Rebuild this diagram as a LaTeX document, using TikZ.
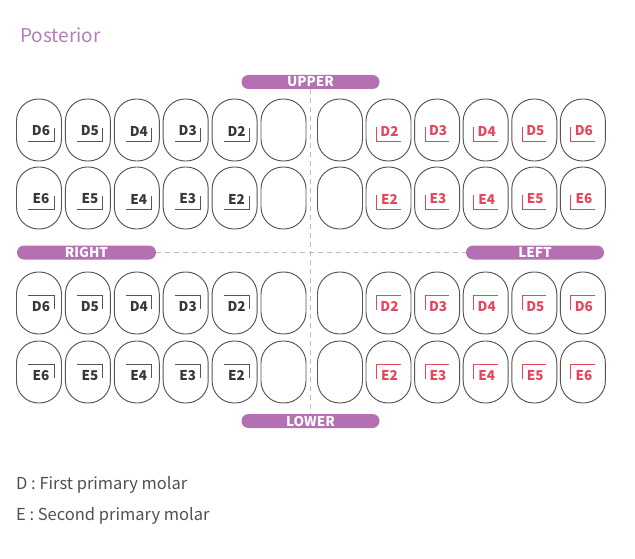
\documentclass[tikz,border=0pt]{standalone}
\usepackage{fontspec}
\setmainfont{Noto Sans CJK KR}
\usetikzlibrary{positioning}

\definecolor{toothline}{HTML}{555555}
\definecolor{barpurple}{HTML}{B470B2}
\definecolor{titlepurple}{HTML}{B27DBA}
\definecolor{sidered}{HTML}{E5465E}
\definecolor{labelgray}{HTML}{383838}
\definecolor{dashgray}{HTML}{BDBDBD}
\definecolor{legendgray}{HTML}{505050}

\tikzset{
  tooth/.style={draw=toothline, line width=0.95pt, minimum width=45pt, minimum height=62pt,
    rounded corners=22pt, inner sep=0pt},
  toothlabel/.style={font=\bfseries\fontsize{13.5}{13.5}\selectfont, inner sep=0pt, text=labelgray},
  redlabel/.style={toothlabel, text=sidered},
  bracketline/.style={toothline, line width=0.9pt},
  redbracket/.style={sidered, line width=0.9pt},
  sidebar/.style={fill=barpurple, text=white, font=\bfseries\fontsize{13.5}{13.5}\selectfont,
    rounded corners=7pt, minimum height=14pt, inner sep=0pt},
  guide/.style={dashgray, dash pattern=on 5pt off 4pt, line width=0.9pt},
}

\begin{document}
\begin{tikzpicture}[x=1pt, y=-1pt]
    \useasboundingbox (0,0) rectangle (635,559);

    % Title
    \node[anchor=base west, inner sep=0pt, text=titlepurple, font=\fontsize{19}{19}\selectfont]
        (title) at (20,43) {Posterior};

    % Side bars
    \node[sidebar, minimum width=138pt] (upper) at (310.5,82) {UPPER};
    \node[sidebar, minimum width=138pt] (lower) at (310.5,421) {LOWER};
    \node[sidebar, minimum width=139pt] (right) at (86.5,252.5) {RIGHT};
    \node[sidebar, minimum width=138pt] (left) at (535,252.5) {LEFT};

    % Midlines
    \draw[guide] (upper.south) -- (lower.north);
    \draw[guide] (right.east) -- (left.west);

    % Upper teeth
    \foreach \row/\ty/\lt in {ua/130/D, ub/198/E} {
      \foreach \n [count=\i] in {6,5,4,3,2} {
        \node[tooth] (\row-l\n) at ({39+(\i-1)*48.9}, \ty) {};
        \node[toothlabel] (\row-l\n-t) at ([shift={(2,1)}]\row-l\n.center) {\lt\n};
        \draw[bracketline] ([shift={(-11,11)}]\row-l\n.center) -- ([shift={(15,11)}]\row-l\n.center)
            -- ([shift={(15,-2)}]\row-l\n.center);
      }
      \node[tooth] (\row-l1) at (283.5,\ty) {};
      \node[tooth] (\row-r1) at (340,\ty) {};
      \foreach \n [count=\i] in {2,3,4,5,6} {
        \node[tooth] (\row-r\n) at ({388.5+(\i-1)*48.6}, \ty) {};
        \node[redlabel] (\row-r\n-t) at ([shift={(1,1)}]\row-r\n.center) {\lt\n};
        \draw[redbracket] ([shift={(-12,-3)}]\row-r\n.center) -- ([shift={(-12,11)}]\row-r\n.center)
            -- ([shift={(12,11)}]\row-r\n.center);
      }
    }

    % Lower teeth
    \foreach \row/\ty/\lt in {la/303/D, lb/372/E} {
      \foreach \n [count=\i] in {6,5,4,3,2} {
        \node[tooth] (\row-l\n) at ({39+(\i-1)*48.9}, \ty) {};
        \node[toothlabel] (\row-l\n-t) at ([shift={(2,3.5)}]\row-l\n.center) {\lt\n};
        \draw[bracketline] ([shift={(-11,-8)}]\row-l\n.center) -- ([shift={(15,-8)}]\row-l\n.center)
            -- ([shift={(15,6)}]\row-l\n.center);
      }
      \node[tooth] (\row-l1) at (283.5,\ty) {};
      \node[tooth] (\row-r1) at (340,\ty) {};
      \foreach \n [count=\i] in {2,3,4,5,6} {
        \node[tooth] (\row-r\n) at ({388.5+(\i-1)*48.6}, \ty) {};
        \node[redlabel] (\row-r\n-t) at ([shift={(1,3.5)}]\row-r\n.center) {\lt\n};
        \draw[redbracket] ([shift={(-12,7)}]\row-r\n.center) -- ([shift={(-12,-8)}]\row-r\n.center)
            -- ([shift={(12,-8)}]\row-r\n.center);
      }
    }

    % Legend
    \node[anchor=base west, inner sep=0pt, text=legendgray, font=\fontsize{16.5}{16.5}\selectfont]
        (legendd) at (16,489) {D : First primary molar};
    \node[anchor=base west, inner sep=0pt, text=legendgray, font=\fontsize{16.5}{16.5}\selectfont]
        (legende) at (16,520) {E : Second primary molar};
\end{tikzpicture}
\end{document}
